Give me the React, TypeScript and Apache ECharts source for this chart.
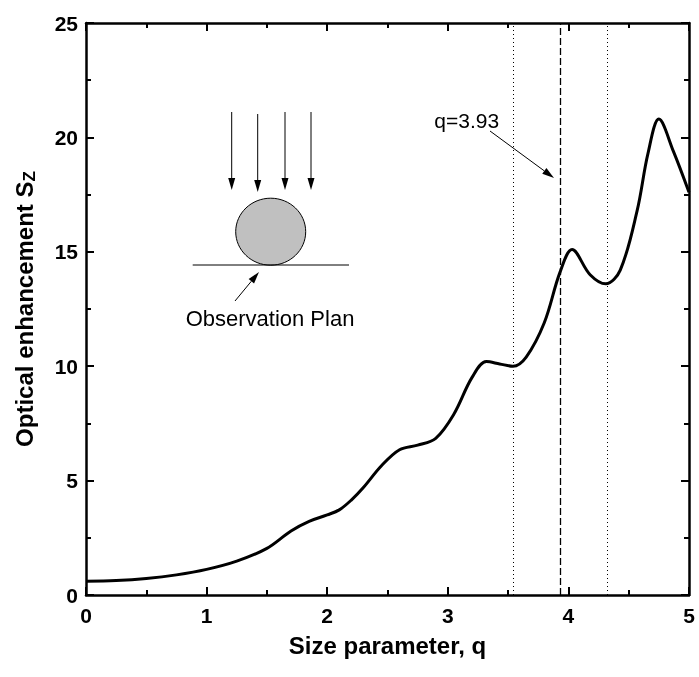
import React, { useEffect, useRef } from "react";
import * as echarts from "echarts";

const qValues = [0.0, 0.25, 0.5, 0.75, 1.0, 1.25, 1.5, 1.7, 1.85, 2.0, 2.1, 2.2, 2.3, 2.45, 2.6, 2.75, 2.9, 3.05, 3.2, 3.32, 3.43, 3.54, 3.65, 3.8, 3.93, 4.03, 4.18, 4.31, 4.43, 4.57, 4.66, 4.75, 4.87, 5.0];
const szValues = [0.6, 0.63, 0.72, 0.88, 1.12, 1.48, 2.04, 2.8, 3.22, 3.5, 3.72, 4.15, 4.7, 5.65, 6.35, 6.55, 6.85, 7.9, 9.5, 10.2, 10.1, 10.0, 10.4, 11.9, 14.1, 15.1, 14.0, 13.6, 14.2, 16.8, 19.3, 20.8, 19.4, 17.6];
const dottedLines = [3.54, 4.32];
const dashedLine = 3.93;
const xTicks = { min: 0, max: 5, interval: 1 };
const yTicks = { min: 0, max: 25, interval: 5 };

const FONT = "'Liberation Sans', Arial, Helvetica, sans-serif";

function arrow(x1: number, y1: number, x2: number, y2: number, headLen = 12, headHalf = 3.5) {
  const dx = x2 - x1;
  const dy = y2 - y1;
  const len = Math.sqrt(dx * dx + dy * dy);
  const ux = dx / len;
  const uy = dy / len;
  const bx = x2 - ux * headLen;
  const by = y2 - uy * headLen;
  const px = -uy;
  const py = ux;
  return [
    { type: "line", shape: { x1, y1, x2: bx, y2: by }, style: { stroke: "#000", lineWidth: 1 } },
    {
      type: "polygon",
      shape: { points: [[x2, y2], [bx + px * headHalf, by + py * headHalf], [bx - px * headHalf, by - py * headHalf]] },
      style: { fill: "#000" },
    },
  ];
}

export default function App() {
  const ref = useRef<HTMLDivElement>(null);
  useEffect(() => {
    if (!ref.current) return;
    const chart = echarts.init(ref.current, undefined, { renderer: "svg" });
    const data = qValues.map((q, i) => [q, szValues[i]]);
    const axisCommon = {
      axisLine: { show: true, onZero: false, lineStyle: { color: "#000", width: 2.5 } },
      axisTick: { show: true, inside: true, length: 8, lineStyle: { color: "#000", width: 2 } },
      minorTick: { show: true, splitNumber: 2, length: 5, lineStyle: { color: "#000", width: 2 } },
      splitLine: { show: false },
    };
    const graphic: any[] = [
      ...arrow(231.7, 112, 231.7, 190),
      ...arrow(257.7, 114, 257.7, 192),
      ...arrow(285, 112, 285, 190),
      ...arrow(311, 112, 311, 190),
      {
        type: "ellipse",
        shape: { cx: 270.7, cy: 231.7, rx: 35, ry: 33.5 },
        style: { fill: "#c0c0c0", stroke: "#000", lineWidth: 1 },
      },
      { type: "line", shape: { x1: 192.7, y1: 265, x2: 349, y2: 265 }, style: { stroke: "#000", lineWidth: 1 } },
      ...arrow(235, 301, 259, 272),
      {
        type: "text",
        x: 270,
        y: 318,
        style: { text: "Observation Plan", font: `22px ${FONT}`, fill: "#000", align: "center", verticalAlign: "middle" },
      },
      {
        type: "text",
        x: 466.7,
        y: 120,
        style: { text: "q=3.93", font: `21px ${FONT}`, fill: "#000", align: "center", verticalAlign: "middle" },
      },
      ...arrow(490, 131, 554, 178, 12, 3.5),
    ];
    chart.setOption({
      animation: false,
      grid: { left: 86, right: 10, top: 23, bottom: 82, containLabel: false },
      xAxis: [
        {
          type: "value",
          ...xTicks,
          position: "bottom",
          ...axisCommon,
          axisLabel: { show: true, margin: 10, color: "#000", fontSize: 21, fontWeight: "bold", fontFamily: FONT },
          name: "Size parameter, q",
          nameLocation: "middle",
          nameGap: 38,
          nameTextStyle: { color: "#000", fontSize: 24, fontWeight: "bold", fontFamily: FONT },
        },
        {
          type: "value",
          ...xTicks,
          position: "top",
          ...axisCommon,
          axisLabel: { show: false },
        },
      ],
      yAxis: [
        {
          type: "value",
          ...yTicks,
          position: "left",
          ...axisCommon,
          axisLabel: { show: true, margin: 8, color: "#000", fontSize: 21, fontWeight: "bold", fontFamily: FONT },
          name: "{main|Optical enhancement S}{sub|Z}",
          nameLocation: "middle",
          nameGap: 47,
          nameRotate: 90,
          nameTextStyle: {
            color: "#000",
            fontFamily: FONT,
            rich: {
              main: { fontSize: 24, fontWeight: "bold", fontFamily: FONT, color: "#000", lineHeight: 30 },
              sub: { fontSize: 17, fontWeight: "bold", fontFamily: FONT, color: "#000", lineHeight: 30, padding: [10, 0, 0, 0] },
            },
          },
        },
        {
          type: "value",
          ...yTicks,
          position: "right",
          ...axisCommon,
          axisLabel: { show: false },
        },
      ],
      series: [
        {
          type: "line",
          data,
          smooth: 0.35,
          showSymbol: false,
          symbol: "none",
          lineStyle: { color: "#000", width: 3 },
          markLine: {
            silent: true,
            symbol: ["none", "none"],
            label: { show: false },
            data: [
              { xAxis: dottedLines[0], lineStyle: { color: "#000", width: 1, type: [1, 3] } },
              { xAxis: dashedLine, lineStyle: { color: "#000", width: 1.3, type: [7, 3] } },
              { xAxis: dottedLines[1], lineStyle: { color: "#000", width: 1, type: [1, 3] } },
            ],
          },
        },
      ],
      graphic,
    });
    return () => chart.dispose();
  }, []);
  return <div ref={ref} style={{ position: "fixed", left: 0, top: 0, width: 699, height: 677 }} />;
}
